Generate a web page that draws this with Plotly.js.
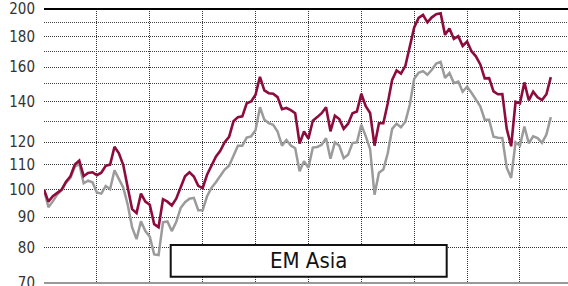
<!DOCTYPE html>
<html>
<head>
<meta charset="utf-8">
<script src="https://cdn.plot.ly/plotly-3.0.1.min.js"></script>
<style>html,body{margin:0;padding:0;background:#fff;}#chart{width:568px;height:286px;}</style>
</head>
<body>
<div id="chart"></div>
<script>
// Monthly index levels (rebased to 100)
const emAsia = [
  100, 95.5, 97.5, 98.9, 100, 103.1, 105.3, 110.1, 111.8, 105.3,
  106.6, 106.9, 105.7, 106.7, 109.6, 110.1, 117.9, 115.0, 109.8, 100.8,
  92.8, 91.4, 98.5, 95.5, 94.4, 87.6, 86.6, 96.4, 95.5, 94.1,
  96.6, 100.8, 105.3, 106.9, 105.2, 101.5, 100.6, 105.9, 109.6, 113.5,
  116.1, 120.0, 122.5, 130.0, 132.1, 132.5, 139.3, 140.3, 143.9, 154.2,
  146.4, 144.8, 144.5, 142.6, 136.2, 136.8, 135.7, 134.1, 119.3, 125.0,
  121.6, 130.3, 132.1, 134.1, 137.2, 125.1, 132.8, 131.1, 126.3, 128.8,
  134.1, 135.0, 144.5, 137.7, 134.2, 118.4, 129.0, 129.0, 139.3, 152.4,
  158.0, 156.1, 160.8, 173.0, 186.4, 193.3, 195.5, 190.0, 193.7, 196.1,
  196.8, 181.1, 185.5, 178.3, 180.2, 173.6, 176.5, 170.1, 166.8, 161.7,
  153.3, 153.4, 145.8, 144.2, 144.3, 126.3, 118.1, 140.1, 139.3, 150.9,
  140.9, 145.6, 142.5, 141.0, 144.2, 154.0
];
const benchmark = [
  100, 93.5, 95.6, 98.1, 99.8, 102.7, 104.6, 109.2, 110.5, 102.5,
  103.5, 102.9, 98.9, 98.5, 101.4, 100.2, 107.7, 103.9, 100.8, 94.4,
  86.5, 82.7, 88.6, 85.3, 83.5, 78.0, 77.8, 88.2, 88.5, 85.3,
  88.3, 93.2, 95.3, 96.6, 96.9, 92.4, 92.4, 97.5, 100.7, 102.9,
  105.3, 108.0, 109.6, 114.1, 118.4, 118.4, 122.1, 122.7, 125.6, 137.2,
  130.8, 129.1, 128.3, 125.0, 118.4, 121.0, 118.4, 117.2, 107.3, 111.5,
  108.8, 117.5, 117.8, 118.8, 121.8, 112.6, 119.9, 118.4, 112.8, 114.3,
  119.6, 119.9, 128.3, 122.8, 116.8, 98.1, 106.7, 108.0, 115.0, 126.3,
  128.8, 127.1, 129.8, 138.5, 153.0, 156.6, 157.6, 155.4, 158.4, 162.2,
  163.3, 153.6, 156.4, 150.5, 151.4, 145.6, 148.4, 145.0, 141.4, 137.7,
  130.8, 130.8, 122.5, 122.0, 121.9, 108.8, 104.6, 119.9, 118.4, 127.4,
  119.5, 122.7, 121.9, 119.7, 123.5, 132.1
];
const yTickVals = [70, 80, 90, 100, 110, 120, 140, 160, 180, 200];
const yTickText = ["70", "80", "90", "100", "110", "120", "140", "160", "180", "200"];
const yMinorVals = [130, 150, 170, 190];
const panelTitle = "EM Asia";

const months = emAsia.map((_, i) => i);

const traces = [
  {x: months, y: benchmark, type: 'scatter', mode: 'lines',
   line: {color: '#9b9b9b', width: 2.5}, hoverinfo: 'skip', showlegend: false},
  {x: months, y: emAsia, type: 'scatter', mode: 'lines',
   line: {color: '#8e0b3d', width: 2.6}, hoverinfo: 'skip', showlegend: false}
];

const font = '"Liberation Sans Narrow", "Arial Narrow", "DejaVu Sans Condensed", sans-serif';

const layout = {
  width: 568, height: 286,
  margin: {l: 44, r: 0, t: 9, b: 3, pad: 0},
  paper_bgcolor: '#fff', plot_bgcolor: '#fff',
  showlegend: false,
  xaxis: {
    range: [0, 118.9], showticklabels: false, ticks: '',
    tickmode: 'linear', tick0: 0, dtick: 12,
    showgrid: true, gridcolor: '#333', griddash: '1px,1px', gridwidth: 1,
    zeroline: false, showline: false, fixedrange: true
  },
  yaxis: {
    type: 'log', range: [Math.log10(69.9), Math.log10(200)],
    tickmode: 'array', tickvals: yTickVals, ticktext: yTickText,
    ticks: '', ticklabelstandoff: 8, ticklabeloverflow: 'allow',
    tickfont: {family: font, size: 15, color: '#333'},
    showgrid: true, gridcolor: '#333', griddash: '1px,1px', gridwidth: 1,
    minor: {tickmode: 'array', tickvals: yMinorVals, showgrid: true,
            gridcolor: '#444', griddash: '1px,1px', gridwidth: 1, ticks: ''},
    zeroline: false, showline: false, fixedrange: true
  },
  shapes: [
    {type: 'line', xref: 'paper', yref: 'paper', x0: 0, x1: 1, y0: 1, y1: 1,
     line: {color: '#000', width: 2}},
    {type: 'line', xref: 'paper', yref: 'paper', x0: 0, x1: 1, y0: 0, y1: 0,
     line: {color: '#777', width: 1.5}},
    {type: 'rect', xref: 'paper', yref: 'paper', x0: 0.2418, x1: 0.7685, y0: 0.023, y1: 0.1387,
     fillcolor: '#fff', line: {color: '#111', width: 2}, layer: 'above'}
  ],
  annotations: [
    {xref: 'paper', yref: 'paper', x: 0.505, y: 0.081, xanchor: 'center', yanchor: 'middle',
     text: panelTitle, showarrow: false, font: {family: font, size: 22, color: '#111'}}
  ]
};

Plotly.newPlot('chart', traces, layout, {staticPlot: true, displayModeBar: false});
</script>
</body>
</html>
